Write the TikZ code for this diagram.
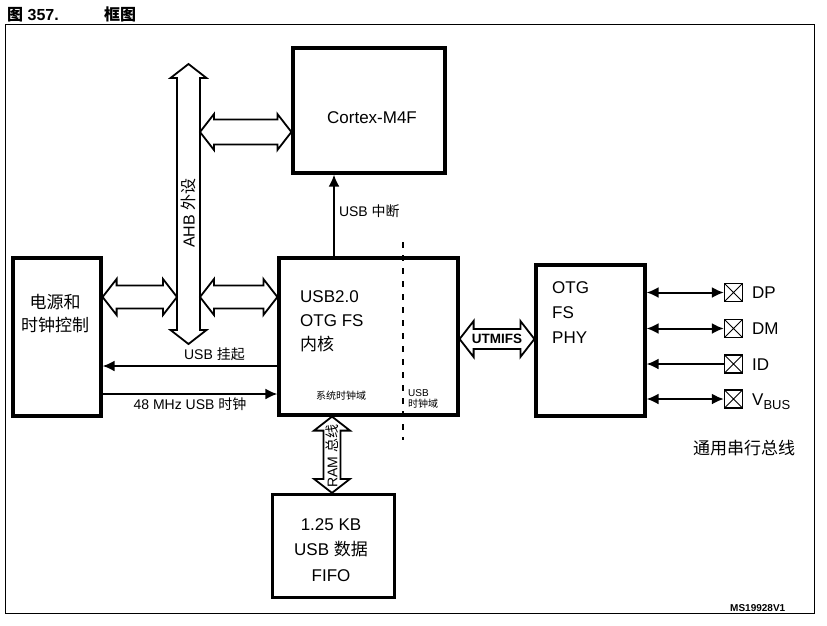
\documentclass[tikz,border=0pt]{standalone}
\usepackage{fontspec}
\setmainfont{Liberation Sans}
\newfontfamily\cjk{Noto Sans CJK SC}
\usetikzlibrary{calc,arrows.meta}
\tikzset{>={Latex[length=12pt,width=11pt]}}
\newcommand{\fs}[1]{\fontsize{#1}{#1}\selectfont}
\newcommand{\hbus}[3][12]{\draw[bus] let \p1=(#2), \p2=(#3) in (\x1,\y1) -- (\x1+14pt,\y1+18pt) -- (\x1+14pt,\y1+#1pt) -- (\x2-14pt,\y1+#1pt) -- (\x2-14pt,\y1+18pt) -- (\x2,\y1) -- (\x2-14pt,\y1-18pt) -- (\x2-14pt,\y1-#1pt) -- (\x1+14pt,\y1-#1pt) -- (\x1+14pt,\y1-18pt) -- cycle;}
\newcommand{\vbus}[3][12]{\draw[bus] let \p1=(#2), \p2=(#3) in (\x1,\y1) -- (\x1+18pt,\y1-14pt) -- (\x1+#1pt,\y1-14pt) -- (\x1+#1pt,\y2+14pt) -- (\x1+18pt,\y2+14pt) -- (\x1,\y2) -- (\x1-18pt,\y2+14pt) -- (\x1-#1pt,\y2+14pt) -- (\x1-#1pt,\y1-14pt) -- (\x1-18pt,\y1-14pt) -- cycle;}
\begin{document}
\begin{tikzpicture}[x=1pt,y=-1pt,
box/.style={draw,line width=3.2pt,inner sep=0pt},
sig/.style={line width=2pt},
bus/.style={draw,line width=1.8pt,fill=white},
pin/.style={draw,line width=1.3pt,minimum size=18pt,inner sep=0pt,path picture={\draw[line width=1pt] (path picture bounding box.north west) -- (path picture bounding box.south east) (path picture bounding box.south west) -- (path picture bounding box.north east);}},
bigtxt/.style={font=\fs{17},inner sep=0pt},
midtxt/.style={font=\fs{14},inner sep=0pt},
smalltxt/.style={font=\fs{10},inner sep=0pt}]
\useasboundingbox (0,0) rectangle (827,625);
\node[font=\fs{16}\bfseries,anchor=base west,inner sep=0pt] (fignum) at (7,20) {{\cjk\bfseries 图} 357.};
\node[font=\fs{16}\bfseries,anchor=base west,inner sep=0pt] (figname) at (104,20) {\cjk\bfseries 框图};
\draw[line width=1pt] (5,24) rectangle (814,613);

\node[box,minimum width=152pt,minimum height=125pt] (cortex) at (369,110.5) {};
\node[box,minimum width=88pt,minimum height=158pt] (pwr) at (57,337) {};
\node[box,minimum width=179pt,minimum height=157pt] (core) at (368.5,336.5) {};
\node[box,minimum width=109pt,minimum height=151pt] (phy) at (590.5,340.5) {};
\node[box,minimum width=122pt,minimum height=103pt] (fifo) at (333.5,546) {};

\node[bigtxt,anchor=base] (cortexlbl) at (372,123) {Cortex-M4F};
\node[bigtxt,anchor=base] (pwrlbl) at (55,308) {\cjk 电源和};
\node[bigtxt,anchor=base] (pwrlbl2) at (55,331) {\cjk 时钟控制};
\node[bigtxt,anchor=base west] (corel1) at (300,302) {USB2.0};
\node[bigtxt,anchor=base west] (corel2) at (300,326) {OTG FS};
\node[bigtxt,anchor=base west] (corel3) at (300,350) {\cjk 内核};
\node[smalltxt,anchor=base] (sysclk) at (341,399) {\cjk 系统时钟域};
\node[smalltxt,anchor=base west] (usbclk) at (408,396) {USB};
\node[smalltxt,anchor=base west] (usbclk2) at (408,407) {\cjk 时钟域};
\node[bigtxt,anchor=base west] (phyl1) at (552,293) {OTG};
\node[bigtxt,anchor=base west] (phyl2) at (552,318) {FS};
\node[bigtxt,anchor=base west] (phyl3) at (552,343) {PHY};
\node[bigtxt,anchor=base] (fifol1) at (331,530) {1.25 KB};
\node[bigtxt,anchor=base] (fifol2) at (331,555) {USB {\cjk 数据}};
\node[bigtxt,anchor=base] (fifol3) at (331,581) {FIFO};

\foreach \n/\y/\t in {dp/292.5/DP, dm/328.5/DM, id/364/ID, vbus/399/{V\raisebox{-4pt}{\fs{13}BUS}}}{
\node[pin] (\n) at (733.5,\y) {};
\node[bigtxt,anchor=base west] (\n lbl) at (752,\y+6) {\t};
}
\foreach \n in {dp,dm,vbus}
\draw[sig,<->] (phy.east|-\n) -- (\n);
\draw[sig,<-] (phy.east|-id) -- (id);
\node[bigtxt,anchor=base west] (usbbus) at (693,454) {\cjk 通用串行总线};
\node[font=\fs{10}\bfseries,anchor=base west,inner sep=0pt] (msid) at (730,611) {MS19928V1};

\coordinate (ahbt) at (188.5,64);
\coordinate (ahbb) at (188.5,344);
\coordinate (ahbl) at (177,297);
\coordinate (ahbr) at (200,297);
\coordinate (ahbc) at (200,132);
\coordinate (utmi) at (0,339);
\coordinate (ram) at (332,0);
\coordinate (irq) at (334,0);
\coordinate (susp) at (0,366);
\coordinate (clk) at (0,394);
\coordinate (dtop) at (403,242);
\coordinate (dbot) at (403,440);

\vbus[11.5]{ahbt}{ahbb}
\node[font=\fs{16},rotate=90,inner sep=0pt] (ahblbl) at (188.5,213) {AHB {\cjk 外设}};
\hbus[11.5]{pwr.east|-ahbl}{ahbl}
\hbus[11.5]{ahbr}{core.west|-ahbr}
\hbus[12.5]{ahbc}{cortex.west|-ahbc}
\hbus[10]{core.east|-utmi}{phy.west|-utmi}
\node[font=\fs{13.5}\bfseries,inner sep=0pt] (utmilbl) at (497,339) {UTMIFS};
\vbus[8.5]{core.south-|ram}{fifo.north-|ram}
\node[font=\fs{14},rotate=90,inner sep=0pt] (ramlbl) at (332,456) {RAM {\cjk 总线}};

\draw[sig,->] (core.north-|irq) -- node[midtxt,right=4pt,pos=0.55] (irqlbl) {USB {\cjk 中断}} (cortex.south-|irq);
\draw[sig,->] (core.west|-susp) -- node[midtxt,above=4pt,pos=0.36] (susplbl) {USB {\cjk 挂起}} (pwr.east|-susp);
\draw[sig,->] (pwr.east|-clk) -- node[midtxt,below=3pt] (clklbl) {48 MHz USB {\cjk 时钟}} (core.west|-clk);
\draw[line width=2pt,dash pattern=on 6pt off 7pt] (dtop) -- (dbot);
\end{tikzpicture}
\end{document}
